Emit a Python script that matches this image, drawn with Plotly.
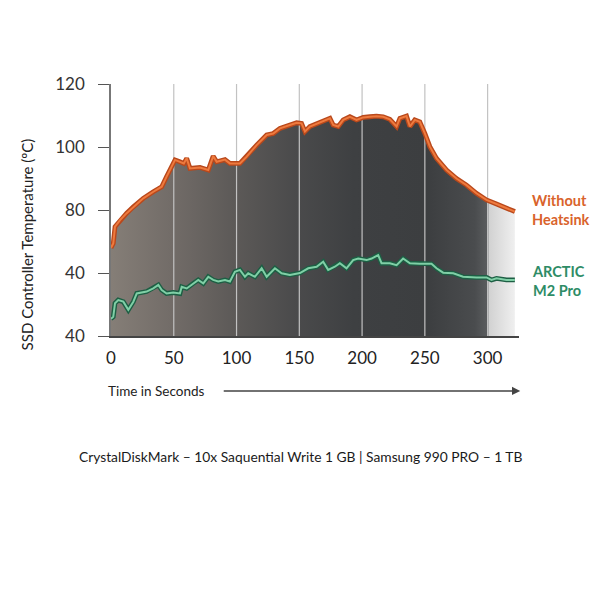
import plotly.graph_objects as go

# ---- data ----
time_no_hs = [0, 1.8, 3.2, 7.2, 12.5, 17.8, 25.7, 33.7, 40.4, 44.3, 48.3, 51, 54.9, 58, 60.3, 62.9,
              70.9, 77.5, 81.4, 84.2, 90.8, 94.7, 102.7, 108, 116, 124, 129.2, 134.6, 142.5,
              147.9, 151.8, 154.5, 158.4, 166.4, 174.4, 177, 181, 185, 190.3, 195.6, 200.9,
              206.2, 211.5, 216.8, 222.1, 227.5, 230.1, 235.4, 238.1, 242, 246, 250, 254,
              259.3, 267.3, 275.2, 283.2, 291.1, 299.1, 307.1, 315, 321.7]
temp_no_hs = [68, 69.4, 74.7, 76.8, 79, 81, 83.7, 85.8, 87.4, 90.6, 93.8, 95.9, 95.3, 94.8, 96.4, 93.2,
              93.5, 92.7, 97.1, 95.3, 96, 94.8, 94.8, 96.9, 100.6, 103.8, 104.3, 105.9, 107,
              107.7, 107.5, 104.9, 106.5, 107.7, 109.1, 107, 106.5, 108.6, 109.6, 108.6, 109.4,
              109.6, 109.8, 109.6, 108.8, 106.5, 109.1, 109.8, 106.5, 108.6, 108, 104.3, 100.1,
              96.4, 92.7, 90, 87.9, 85.3, 83.2, 81.9, 80.5, 79.5]

time_arctic = [0, 1.8, 3.2, 5.8, 9.8, 13.8, 17.8, 20.5, 28.4, 33.7, 37.7, 40.4, 44.3, 49.6, 54.9,
               56.3, 60.3, 65.5, 69.5, 73.5, 77.5, 81.4, 85.4, 90.8, 94.7, 98.7, 102.7, 106.7,
               109.3, 114.6, 120, 124, 130.6, 135.9, 142.5, 150.5, 157.1, 163.8, 169, 173,
               178.3, 182.3, 187.6, 192.9, 196.9, 203.6, 207.6, 212.8, 215.5, 222.1, 227.5,
               232.7, 238.1, 246, 255.3, 259.3, 264.6, 272.6, 280.4, 291.1, 299.1, 303.1,
               307.1, 315, 321.7]
temp_arctic = [45.5, 46.1, 50.4, 51.4, 50.9, 48.3, 50.9, 53.5, 54.1, 55.1, 56.2, 54.6, 53.5, 53.8, 53.5,
               55.6, 55.1, 56.7, 57.8, 56.7, 58.8, 57.8, 57.3, 57.8, 57.3, 60.4, 61, 58.8,
               59.9, 58.8, 61.5, 58.8, 61.5, 59.9, 59.4, 60, 61.5, 62, 63.6, 61,
               62, 63.1, 61.5, 64.1, 64.6, 64.1, 64.6, 65.7, 63.1, 63.1, 62.5,
               64.6, 63.1, 62.9, 62.9, 61.5, 60.1, 59.9, 58.8, 58.6, 58.6, 57.8,
               58.3, 57.8, 57.8]

x_ticks = [0, 50, 100, 150, 200, 250, 300]
x_tick_labels = ["0", "50", "100", "150", "200", "250", "300"]
y_ticks = [40, 60, 80, 100, 120]
y_tick_labels = ["40", "40", "80", "100", "120"]

label_no_hs = "Without<br>Heatsink"
label_arctic = "ARCTIC<br>M2 Pro"
label_no_hs_y = 80
label_arctic_y = 57.5
title_text = "CrystalDiskMark – 10x Saquential Write 1 GB | Samsung 990 PRO – 1 TB"

ORANGE = "#d9632b"
ORANGE_DARK = "#b9481b"
ORANGE_LIGHT = "#ee7a3e"
GREEN = "#2e8c66"
GREEN_DARK = "#1d5f44"
GREEN_LIGHT = "#7fcfa6"
FONT = "Lato"

fig = go.Figure()

# shaded area under the uncooled curve
fig.add_trace(go.Scatter(
    x=time_no_hs, y=temp_no_hs, mode="lines", line=dict(width=0),
    fill="tozeroy",
    fillgradient=dict(
        type="horizontal", start=0, stop=322,
        colorscale=[
            [0.0, "#857e77"], [0.15, "#726c68"], [0.3, "#5d5a58"], [0.45, "#4b4b4c"],
            [0.6, "#3e4042"], [0.78, "#3c3e40"], [0.9, "#4a4c4e"], [0.93, "#5a5c5e"],
            [0.936, "#d2d2d2"], [1.0, "#f0f0f0"],
        ]),
    hoverinfo="skip", showlegend=False,
))

# vertical gridlines (drawn above the shaded area)
gx, gy = [], []
for t in x_ticks[1:]:
    gx += [t, t, None]
    gy += [y_ticks[0], y_ticks[-1], None]
fig.add_trace(go.Scatter(x=gx, y=gy, mode="lines",
                         line=dict(color="#c2c2c2", width=1.2),
                         hoverinfo="skip", showlegend=False))

# lines: dark outline + light core
fig.add_trace(go.Scatter(x=time_no_hs, y=temp_no_hs, mode="lines",
                         line=dict(color=ORANGE_DARK, width=4.8), showlegend=False))
fig.add_trace(go.Scatter(x=time_no_hs, y=temp_no_hs, mode="lines",
                         line=dict(color=ORANGE_LIGHT, width=2), showlegend=False))
fig.add_trace(go.Scatter(x=time_arctic, y=temp_arctic, mode="lines",
                         line=dict(color=GREEN_DARK, width=4.8), showlegend=False))
fig.add_trace(go.Scatter(x=time_arctic, y=temp_arctic, mode="lines",
                         line=dict(color=GREEN_LIGHT, width=2), showlegend=False))

annotations = []
for txt, yv, col in [(label_no_hs, label_no_hs_y, ORANGE), (label_arctic, label_arctic_y, GREEN)]:
    annotations.append(dict(
        x=1.026, xref="paper", y=yv, yref="y",
        text="<b>" + txt.replace("<br>", "</b><br><b>") + "</b>",
        showarrow=False, xanchor="left", yanchor="middle", align="left",
        font=dict(family=FONT, size=14.5, color=col)))

annotations += [
    dict(x=-0.205, xref="paper", y=0.365, yref="paper", text="SSD Controller Temperature (ºC)",
         textangle=-90, showarrow=False, xanchor="center", yanchor="middle",
         font=dict(family=FONT, size=15, color="#222222")),
    dict(x=-0.013, xref="paper", y=-0.217, yref="paper", text="Time in Seconds",
         showarrow=False, xanchor="left", yanchor="middle",
         font=dict(family=FONT, size=13.5, color="#222222")),
    dict(x=1.003, xref="paper", y=-0.218, yref="paper", ax=-298, ay=0,
         axref="pixel", ayref="pixel", text="", showarrow=True,
         arrowhead=2, arrowsize=1.1, arrowwidth=1.5, arrowcolor="#444444"),
    dict(x=0.465, xref="paper", y=-0.48, yref="paper", text=title_text,
         showarrow=False, xanchor="center", yanchor="middle",
         font=dict(family=FONT, size=13.8, color="#1a1a1a")),
]

fig.update_layout(
    width=600, height=600,
    margin=dict(l=111, r=81, t=84, b=264),
    paper_bgcolor="white", plot_bgcolor="white",
    showlegend=False,
    annotations=annotations,
    xaxis=dict(range=[0, 325], tickvals=x_ticks, ticktext=x_tick_labels,
               showgrid=False, zeroline=False, showline=True, linecolor="#444444",
               linewidth=1.5, ticks="", ticklen=0, ticklabelstandoff=6,
               tickfont=dict(family=FONT, size=17, color="#222222")),
    yaxis=dict(range=[40, 120], tickvals=y_ticks, ticktext=y_tick_labels,
               showgrid=False, zeroline=False, showline=True, linecolor="#777777",
               linewidth=1.5, ticks="outside", ticklen=11, tickcolor="#555555",
               tickwidth=1.2, ticklabelstandoff=10,
               tickfont=dict(family=FONT, size=17, color="#333333")),
)

fig.write_html("out.html")
